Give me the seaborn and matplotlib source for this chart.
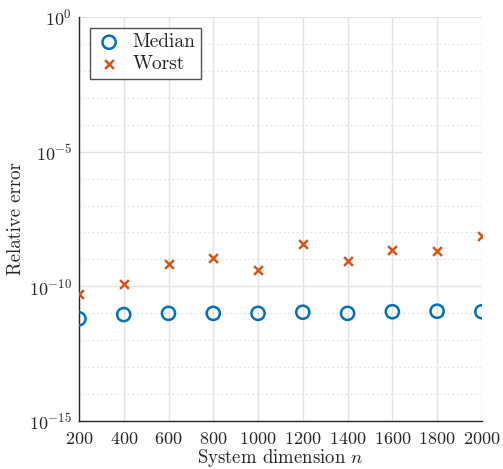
import numpy as np
import pandas as pd
import matplotlib
matplotlib.use("Agg")
import matplotlib.pyplot as plt
import seaborn as sns
from matplotlib.ticker import FixedLocator, NullFormatter

# data
dims = [200, 400, 600, 800, 1000, 1200, 1400, 1600, 1800, 2000]
median_err = [6.3e-12, 9.0e-12, 1.0e-11, 1.0e-11, 1.0e-11, 1.1e-11, 1.0e-11, 1.15e-11, 1.2e-11, 1.15e-11]
worst_err = [5.3e-11, 1.2e-10, 6.8e-10, 1.1e-9, 4.0e-10, 3.6e-9, 9.0e-10, 2.3e-9, 2.0e-9, 7.6e-9]

df = pd.DataFrame({"n": dims + dims,
                   "err": median_err + worst_err,
                   "kind": ["Median"] * len(dims) + ["Worst"] * len(dims)})

sns.set_style("white")
plt.rcParams["font.family"] = "serif"
plt.rcParams["font.serif"] = ["cmr10", "DejaVu Serif"]
plt.rcParams["mathtext.fontset"] = "cm"
plt.rcParams["axes.formatter.use_mathtext"] = True
plt.rcParams["font.size"] = 13

fig = plt.figure(figsize=(5.03, 4.69), dpi=100)
ax = fig.add_axes([0.157, 0.102, 0.801, 0.862])

blue = "#0072BD"
orange = "#D95319"
sns.scatterplot(data=df[df.kind == "Median"], x="n", y="err", ax=ax, marker="o",
                s=90, facecolor="none", edgecolor=blue, linewidth=1.8, label="Median", zorder=3)
sns.scatterplot(data=df[df.kind == "Worst"], x="n", y="err", ax=ax, marker="x",
                s=40, color=orange, linewidth=1.8, label="Worst", zorder=3)

ax.set_yscale("log")
ax.set_ylim(1e-15, 1e0)
ax.set_xlim(200, 2000)
ax.set_xticks(dims)
ax.yaxis.set_major_locator(FixedLocator([1e-15, 1e-10, 1e-5, 1e0]))
ax.yaxis.set_minor_locator(FixedLocator([10.0 ** k for k in range(-15, 1)]))
ax.yaxis.set_minor_formatter(NullFormatter())

ax.grid(True, which="major", color="#e3e3e3", linewidth=1.0, linestyle="-")
ax.grid(True, which="minor", axis="y", color="#cfcfcf", linewidth=0.8, linestyle=(0, (1, 3)))
ax.set_axisbelow(True)

for side in ["top", "right"]:
    ax.spines[side].set_visible(False)
for side in ["left", "bottom"]:
    ax.spines[side].set_color("#262626")
    ax.spines[side].set_linewidth(1.0)
ax.tick_params(which="both", direction="in", length=4, color="#262626", labelsize=13)
ax.tick_params(axis="x", which="minor", length=0)
ax.tick_params(axis="x", pad=7)
ax.tick_params(axis="y", pad=5)

ax.set_xlabel(r"System dimension $n$", fontsize=13.5, labelpad=0)
ax.set_ylabel("Relative error", fontsize=13.5, labelpad=3)

leg = ax.legend(loc="upper left", frameon=True, fancybox=False, edgecolor="#262626",
                fontsize=14, borderaxespad=0.55, handletextpad=0.5, borderpad=0.3,
                labelspacing=0.2, handlelength=1.4)
leg.get_frame().set_linewidth(1.0)

fig.savefig("out.png", dpi=100)
